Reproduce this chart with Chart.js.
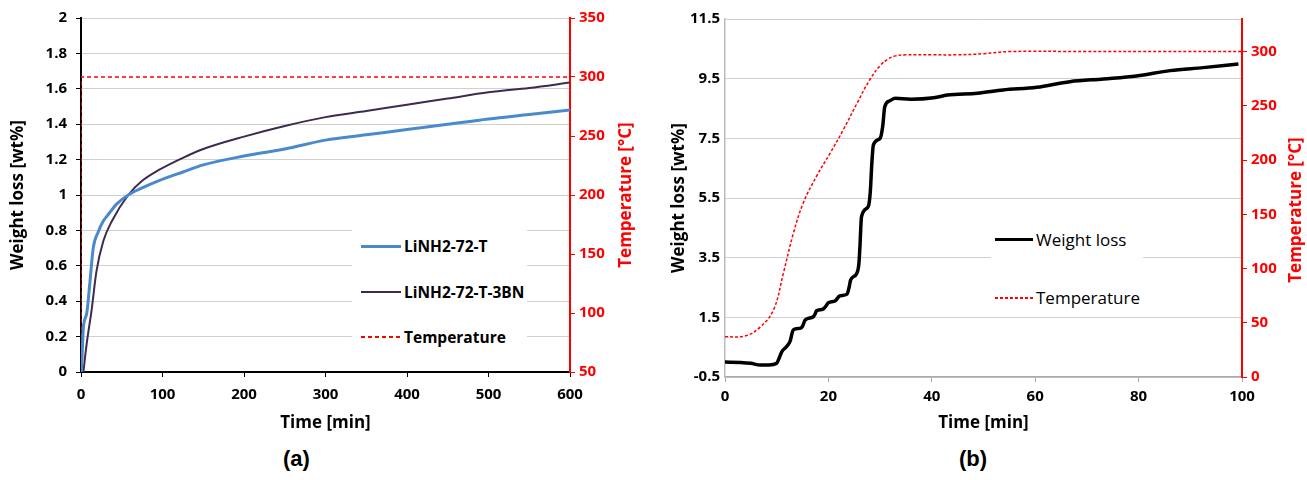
<!DOCTYPE html>
<html lang="en">
  <head>
    <meta charset="UTF-8" />
    <title>Weight loss vs time</title>
    <script src="https://cdn.jsdelivr.net/npm/chart.js"></script>
    <style>
      body {
        margin: 0;
        background: #fff;
        width: 1307px;
        height: 480px;
        position: relative;
        overflow: hidden;
        font-family: "Open Sans", sans-serif;
      }
      .box { position: absolute; top: 0; height: 437px; }
      #boxA { left: 0; width: 640px; }
      #boxB { left: 640px; width: 667px; }
      .legend { position: absolute; background: #fff; }
      .legend .item { position: absolute; left: 0; display: flex; align-items: center; white-space: nowrap; }
      .legend .sym { display: inline-block; margin-right: 3px; }
      .panel { position: absolute; top: 446px; font: bold 22px "Liberation Sans", Arial, sans-serif; color: #000; }
      .rtitle {
        position: absolute; width: 200px; margin-left: -100px; text-align: center;
        font: bold 17px "Open Sans", sans-serif; color: #ff0000; line-height: 20px;
        transform: rotate(-90deg); transform-origin: 50% 50%;
      }
    </style>
  </head>
  <body>
    <div class="box" id="boxA"><canvas id="chartA"></canvas></div>
    <div class="box" id="boxB"><canvas id="chartB"></canvas></div>
    <div class="legend" id="legA" style="left:352px; top:230px; width:175px; height:122px;"></div>
    <div class="legend" id="legB" style="left:991px; top:212px; width:152px; height:100px;"></div>
    <div class="rtitle" style="left:625px; top:185px;">Temperature [°C]</div>
    <div class="rtitle" style="left:1295px; top:200px;">Temperature [°C]</div>
    <div class="panel" style="left:283px;">(a)</div>
    <div class="panel" style="left:959px;">(b)</div>

    <script>
      // (a) weight loss at 300 °C, two samples
      const timeA1 = [0, 0.8, 2.9, 7, 11, 15, 21, 27, 33.5, 44, 58, 75, 95, 125, 150, 200, 250, 300, 350, 400, 450, 500, 550, 600];
      const lossA1 = [0, 0.03, 0.25, 0.33, 0.51, 0.70, 0.79, 0.85, 0.89, 0.95, 1.0, 1.04, 1.08, 1.13, 1.17, 1.22, 1.26, 1.31, 1.34, 1.37, 1.40, 1.43, 1.455, 1.48];
      const timeA2 = [2.9, 7, 13, 19, 27.4, 37.6, 58, 75, 95, 125, 150, 200, 250, 300, 350, 400, 450, 500, 550, 600];
      const lossA2 = [0, 0.16, 0.35, 0.57, 0.74, 0.85, 1.0, 1.08, 1.14, 1.21, 1.26, 1.33, 1.39, 1.44, 1.475, 1.51, 1.545, 1.58, 1.605, 1.635];
      const timeTA = [0, 0, 600];
      const tempA = [50, 300, 300];

      // (b) weight loss during heating
      const timeB = [0, 3, 5, 6.8, 8.5, 10, 10.4, 11, 11.9, 12.6, 13.2, 14.5, 15, 15.5, 17.1, 17.4, 17.7, 18.9, 19.4, 20, 21.3, 21.8, 22.2, 23.6, 24, 24.3, 25.5, 25.9, 26.1, 26.4, 27.7, 28.1, 28.4, 28.7, 30, 30.5, 30.9, 31.9, 32.9, 35.9, 40.4, 43, 48.8, 53.8, 60.3, 66.7, 73.2, 79.6, 86.1, 92.5, 99.3];
      const lossB = [0, -0.01, -0.04, -0.1, -0.1, -0.04, 0.1, 0.35, 0.52, 0.7, 1.08, 1.13, 1.2, 1.41, 1.52, 1.6, 1.72, 1.77, 1.85, 1.99, 2.05, 2.15, 2.22, 2.28, 2.5, 2.75, 2.98, 3.3, 3.87, 4.87, 5.21, 5.7, 6.66, 7.28, 7.5, 7.9, 8.56, 8.76, 8.84, 8.81, 8.86, 8.95, 9.01, 9.12, 9.21, 9.40, 9.49, 9.59, 9.77, 9.87, 9.99];
      const timeTB = [0, 4, 6.8, 9.4, 11.3, 13.2, 15.1, 17.7, 20.3, 22.9, 25.5, 28, 30, 31.5, 33, 35, 40, 45, 50, 55, 70, 85, 100];
      const tempB = [37, 38, 46, 62, 96, 132, 160, 185, 206, 228, 252, 274, 287, 293, 296, 297, 297, 297, 298, 300, 300, 300, 300];

      const pts = (xs, ys) => xs.map((x, i) => ({ x: x, y: ys[i] }));
      const red = "#ff0000";
      const gridGray = "#d0d0d0";

      Chart.defaults.font.family = "'Open Sans', sans-serif";
      Chart.defaults.font.size = 15;
      Chart.defaults.font.weight = "bold";
      const titleFont = { size: 17, weight: "bold" };

      function buildLegend(chart, id, rows, font) {
        const box = document.getElementById(id);
        chart.data.datasets.forEach((ds, i) => {
          const item = document.createElement("div");
          item.className = "item";
          item.style.top = rows[i] + "px";
          item.style.font = font;
          const sym = document.createElement("span");
          sym.className = "sym";
          sym.style.width = rows.lineW + "px";
          sym.style.marginLeft = rows.lineX + "px";
          if (ds.borderDash) {
            const d = ds.borderDash;
            sym.style.height = "2px";
            sym.style.background = "repeating-linear-gradient(to right, " + ds.borderColor + " 0 " + d[0] + "px, transparent " + d[0] + "px " + (d[0] + d[1]) + "px)";
          } else {
            sym.style.height = ds.borderWidth + "px";
            sym.style.background = ds.borderColor;
          }
          const txt = document.createElement("span");
          txt.textContent = ds.label;
          item.appendChild(sym);
          item.appendChild(txt);
          box.appendChild(item);
        });
      }

      // Gráfico (a)
      const chartA = new Chart(document.getElementById("chartA"), {
        type: "line",
        data: {
          datasets: [
            { label: "LiNH2-72-T", data: pts(timeA1, lossA1), borderColor: "#4a89cc", borderWidth: 3, yAxisID: "y" },
            { label: "LiNH2-72-T-3BN", data: pts(timeA2, lossA2), borderColor: "#3d2b4f", borderWidth: 2, yAxisID: "y" },
            { label: "Temperature", data: pts(timeTA, tempA), borderColor: red, borderWidth: 1.5, borderDash: [4, 3], yAxisID: "y1", tension: 0 },
          ],
        },
        options: {
          responsive: true,
          maintainAspectRatio: false,
          animation: false,
          layout: { padding: { top: 14, bottom: 0, left: 0, right: 0 } },
          elements: { point: { radius: 0 }, line: { tension: 0.35, cubicInterpolationMode: "monotone" } },
          plugins: { legend: { display: false }, tooltip: { enabled: false } },
          scales: {
            x: {
              type: "linear", min: 0, max: 600,
              ticks: { stepSize: 100, color: "#000", padding: 9 },
              grid: { drawOnChartArea: false, tickColor: "#000", tickLength: 5 },
              border: { color: "#000", width: 2 },
              title: { display: true, text: "Time [min]", color: "#000", font: titleFont },
              afterFit: (s) => { s.height = 65; },
            },
            y: {
              position: "left", min: 0, max: 2,
              ticks: { stepSize: 0.2, color: "#000", padding: 9, callback: (v) => String(+v.toFixed(1)) },
              grid: { color: gridGray, tickColor: "#000", tickLength: 5 },
              border: { color: "#000", width: 2 },
              title: { display: true, text: "Weight loss [wt%]", color: "#000", font: titleFont, padding: { top: 8 } },
              afterFit: (s) => { s.width = 81; },
            },
            y1: {
              position: "right", min: 50, max: 350,
              ticks: { stepSize: 50, color: red, padding: 4 },
              grid: { drawOnChartArea: false, tickColor: red, tickLength: 5 },
              border: { color: red, width: 2 },
              afterFit: (s) => { s.width = 70; },
            },
          },
        },
      });

      // Gráfico (b)
      const chartB = new Chart(document.getElementById("chartB"), {
        type: "line",
        data: {
          datasets: [
            { label: "Weight loss", data: pts(timeB, lossB), borderColor: "#000", borderWidth: 3.5, yAxisID: "y", tension: 0.2 },
            { label: "Temperature", data: pts(timeTB, tempB), borderColor: red, borderWidth: 1.5, borderDash: [3, 2], yAxisID: "y1", cubicInterpolationMode: "default", tension: 0.4 },
          ],
        },
        options: {
          responsive: true,
          maintainAspectRatio: false,
          animation: false,
          layout: { padding: { top: 19, bottom: 0, left: 0, right: 0 } },
          elements: { point: { radius: 0 }, line: { tension: 0.35, cubicInterpolationMode: "monotone" } },
          plugins: { legend: { display: false }, tooltip: { enabled: false } },
          scales: {
            x: {
              type: "linear", min: 0, max: 100,
              ticks: { stepSize: 20, color: "#000", padding: 6 },
              grid: { drawOnChartArea: false, tickColor: "#aaa", tickLength: 5 },
              border: { color: "#aaa", width: 1.5 },
              title: { display: true, text: "Time [min]", color: "#000", font: titleFont },
              afterFit: (s) => { s.height = 60; },
            },
            y: {
              position: "left", min: -0.5, max: 11.5,
              ticks: { stepSize: 2, color: "#000", padding: 5 },
              grid: { color: gridGray, drawTicks: false },
              border: { color: "#bbb", width: 1.5 },
              title: { display: true, text: "Weight loss [wt%]", color: "#000", font: titleFont, padding: { top: 29 } },
              afterFit: (s) => { s.width = 85; },
            },
            y1: {
              position: "right", min: 0, max: 330,
              ticks: { stepSize: 50, color: red, padding: 4, includeBounds: false },
              grid: { drawOnChartArea: false, tickColor: red, tickLength: 5 },
              border: { color: red, width: 2 },
              afterFit: (s) => { s.width = 65; },
            },
          },
        },
      });

      const rowsA = [5, 51, 96];
      rowsA.lineX = 9; rowsA.lineW = 40;
      buildLegend(chartA, "legA", rowsA, "bold 15.5px 'Open Sans'");
      const rowsB = [16, 74];
      rowsB.lineX = 4; rowsB.lineW = 38;
      buildLegend(chartB, "legB", rowsB, "17px 'Open Sans'");
    </script>
  </body>
</html>
